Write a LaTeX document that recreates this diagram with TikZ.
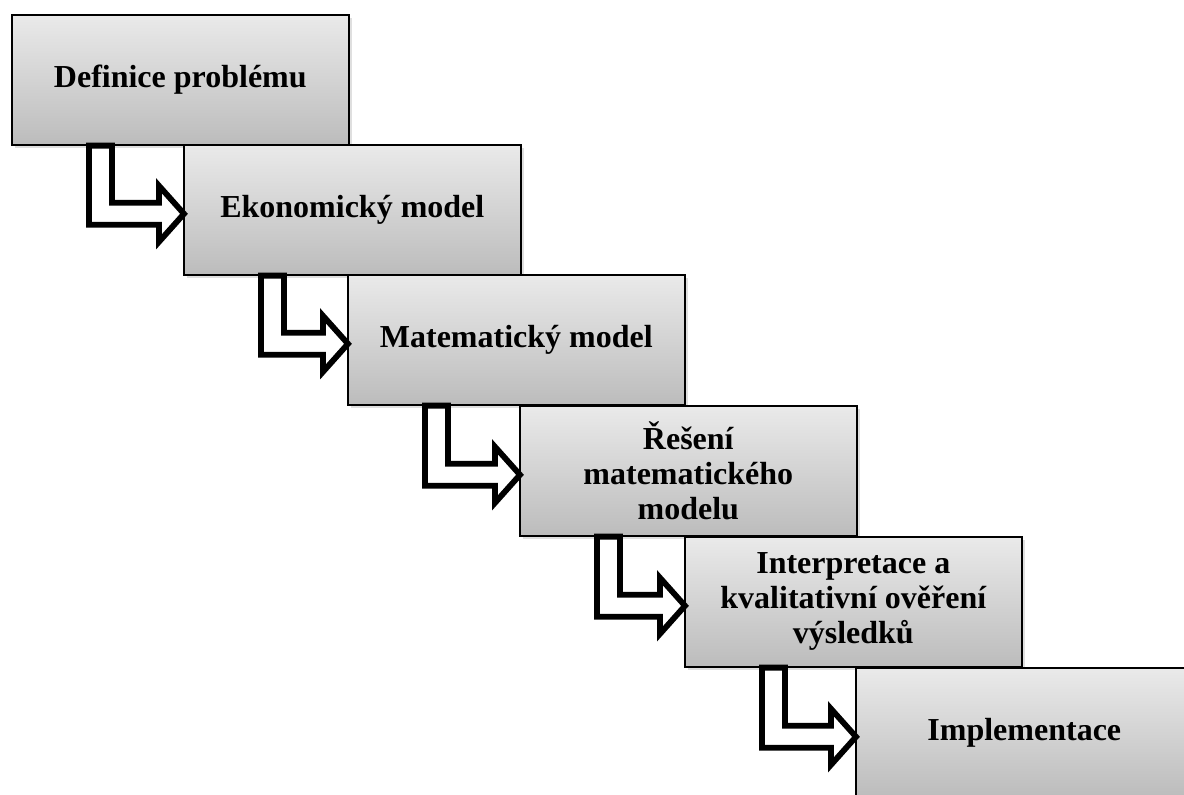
\documentclass[tikz,border=0pt]{standalone}
\usepackage{fontspec}
\setmainfont{Liberation Serif}
\usetikzlibrary{calc,shadows}
\definecolor{boxtop}{RGB}{234,234,234}
\definecolor{boxbottom}{RGB}{188,188,188}
\newcommand{\steparrow}[2]{%
  \draw[steparrow] let \p1 = (#1.south west), \p2 = (#2.west) in
    (\x1+39pt,\y1) -- (\x1+50.5pt,\y1) -- (\x1+50.5pt,\y2+3.5pt)
    -- (\x2-12pt,\y2+3.5pt) -- (\x2-12pt,\y2+12pt) -- (\x2+0.5pt,\y2-2pt)
    -- (\x2-12pt,\y2-16pt) -- (\x2-12pt,\y2-7.5pt) -- (\x1+39pt,\y2-7.5pt) -- cycle}

\begin{document}
\begin{tikzpicture}[x=0.5pt, y=-0.5pt,
    stage/.style={rectangle, draw, line width=0.8pt, anchor=north west,
      minimum width=168.5pt, minimum height=65pt, align=center,
      top color=boxtop, bottom color=boxbottom,
      font=\fontsize{16}{17.5}\selectfont\bfseries,
      drop shadow={shadow xshift=1.5pt, shadow yshift=-1.5pt, opacity=0.25}},
    steparrow/.style={draw, fill=white, line width=2.9pt, line join=miter}]
  \useasboundingbox (0,0) rectangle (1184,794);
  \clip (0,0) rectangle (1184,794);

  \node[stage] (def) at (11,14) {Definice problému};
  \node[stage] (eko) at (183,144) {Ekonomický model};
  \node[stage] (mat) at (347,274) {Matematický model};
  \node[stage] (res) at (519,405) {Řešení\\matematického\\modelu};
  \node[stage] (int) at (684,536) {Interpretace a\\kvalitativní ověření\\výsledků};
  \node[stage] (imp) at (855,667) {Implementace};

  \steparrow{def}{eko};
  \steparrow{eko}{mat};
  \steparrow{mat}{res};
  \steparrow{res}{int};
  \steparrow{int}{imp};
\end{tikzpicture}
\end{document}
